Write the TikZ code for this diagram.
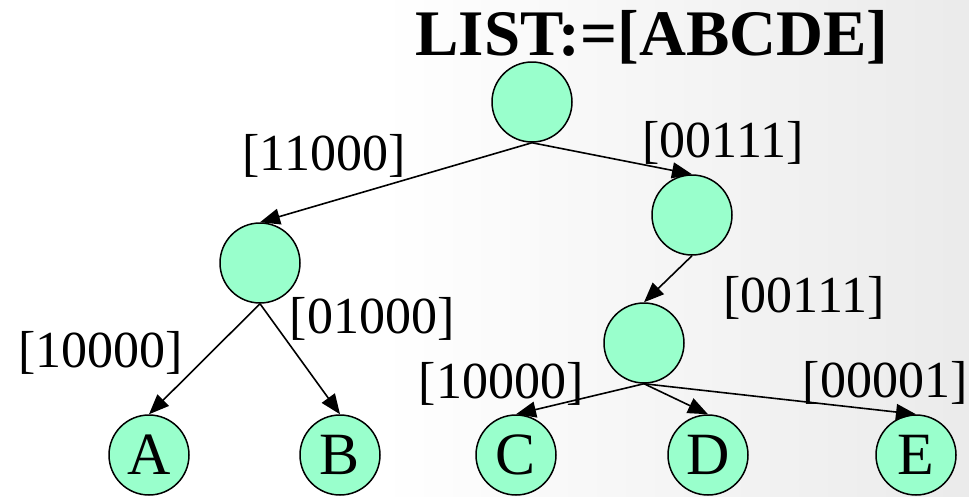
\documentclass[tikz,border=0pt]{standalone}
\usepackage{fontspec}
\setmainfont{Liberation Serif}
\usetikzlibrary{arrows.meta}
\definecolor{nodefill}{RGB}{153,255,204}
\begin{document}
\begin{tikzpicture}[x=1pt,y=-1pt,
  treenode/.style={circle,draw=black,line width=1.5pt,fill=nodefill,minimum size=80pt,inner sep=0pt,font=\fontsize{60}{60}\selectfont},
  edgelabel/.style={anchor=base,inner sep=0pt,font=\fontsize{52}{52}\selectfont},
  conn/.style={line width=1.6pt,-{Triangle[length=20pt,width=16pt]}},
  titletext/.style={anchor=base,inner sep=0pt,font=\fontsize{65}{65}\selectfont\bfseries}]
\useasboundingbox (0,0) rectangle (969,496);
\fill[white] (0,0) rectangle (969,496);
\shade[left color=white,right color=black!8] (380,0) rectangle (969,496);
% title
\node[titletext] (title) at (652,55) {LIST:=[ABCDE]};
% labels
\node[edgelabel] (l1) at (324,170) {[11000]};
\node[edgelabel] (l2) at (723,157) {[00111]};
\node[edgelabel] (l3) at (804,312) {[00111]};
\node[edgelabel] (l4) at (372,333) {[01000]};
\node[edgelabel] (l5) at (101,367) {[10000]};
\node[edgelabel] (l6) at (501,398) {[10000]};
\node[edgelabel] (l7) at (885,397) {[00001]};
% nodes
\node[treenode] (root) at (532,102) {};
\node[treenode] (left) at (260,263) {};
\node[treenode] (right) at (692,215) {};
\node[treenode] (mid) at (644,343) {};
\node[treenode] (A) at (149,455) {A};
\node[treenode] (B) at (340,455) {B};
\node[treenode] (C) at (516,455) {C};
\node[treenode] (D) at (708,455) {D};
\node[treenode] (E) at (916,455) {E};
% connectors
\draw[conn] (root.south) -- (left.north);
\draw[conn] (root.south) -- (right.north);
\draw[conn] (left.south) -- (A.north);
\draw[conn] (left.south) -- (B.north);
\draw[conn] (right.south) -- (mid.north);
\draw[conn] (mid.south) -- (C.north);
\draw[conn] (mid.south) -- (D.north);
\draw[conn] (mid.south) -- (E.north);
\end{tikzpicture}
\end{document}
